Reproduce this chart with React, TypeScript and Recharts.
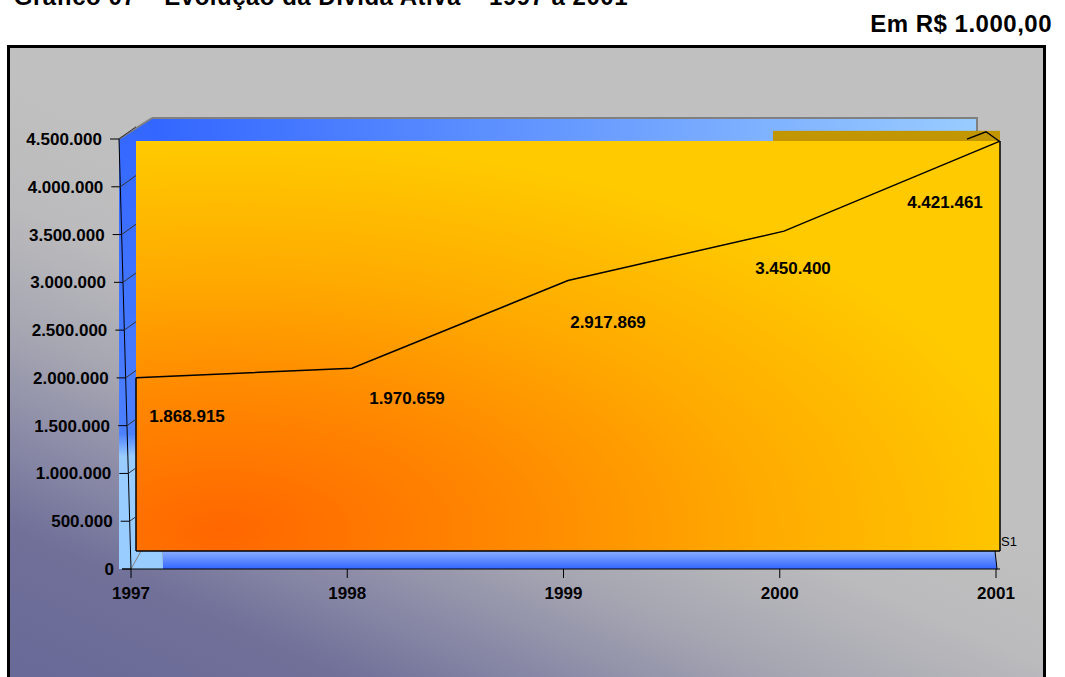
import { ComposedChart, Line, XAxis, YAxis, ReferenceArea, ReferenceLine, LabelList } from 'recharts'

const titulo = 'Gráfico 07 – Evolução da Dívida Ativa – 1997 a 2001'
const unidade = 'Em R$ 1.000,00'
const serieNome = 'S1'

const years = [1997, 1998, 1999, 2000, 2001]
const divida = [1868915, 1970659, 2917869, 3450400, 4421461]
const yTicks = [0, 500000, 1000000, 1500000, 2000000, 2500000, 3000000, 3500000, 4000000, 4500000]

// Excel 3D puts the value labels below/right of each point
const labelNudge = [
  { dx: 51, dy: 38 },
  { dx: 55, dy: 30 },
  { dx: 40, dy: 42 },
  { dx: 9, dy: 37 },
  { dx: -55, dy: 61 },
]

const data = years.map((ano, i) => ({ ano, valor: divida[i] }))
const last = years.length - 1
const yMax = yTicks[yTicks.length - 1]
const FONT = 'Arial, "Liberation Sans", sans-serif'
const fmt = (v: number) => String(v).replace(/\B(?=(\d{3})+(?!\d))/g, '.')

function Walls(props: any) {
  const { x: L, y: T, width: W, height: H } = props
  const R = L + W
  const B = T + H
  return (
    <g>
      <polygon points={`${L - 12},${T} ${L + 21},${T - 21} ${L + 32},${B} ${L - 12},${B}`} fill="url(#wallLeft)" />
      <rect x={L + 21} y={T - 21} width={R - 19 - (L + 21)} height={40} fill="url(#wallBack)" />
      <polyline points={`${L + 21},${T - 21} ${R - 19},${T - 21} ${R - 19},${T + 19}`} fill="none" stroke="#808080" strokeWidth={2} />
      <line x1={L - 12} y1={T} x2={L + 21} y2={T - 21} stroke="#808080" strokeWidth={2} />
      <polygon points={`${L + 32},${B - 18} ${R - 1},${B - 18} ${R + 1},${B} ${L + 32},${B}`} fill="url(#floor)" />
      <line x1={L} y1={B} x2={L + 10} y2={B - 18} stroke="#808080" />
      <line x1={R - 1} y1={B - 18} x2={R + 1} y2={B} stroke="#000" />
      <line x1={L} y1={B} x2={L - 12} y2={T} stroke="#000" />
    </g>
  )
}

// top face of the last segment, seen from above
function TopStrip(props: any) {
  const { x, y, width, height } = props
  const R = x + width
  const B = y + height
  return (
    <g>
      <rect x={x - 11} y={y} width={width + 11} height={height} fill="#C29600" />
      <polyline points={`${R - 33},${B - 2} ${R - 14},${y + 1} ${R - 1},${B}`} fill="none" stroke="#000" strokeWidth={1.3} />
    </g>
  )
}

function YTick(props: any) {
  const { x, y, payload } = props
  const v = payload.value as number
  const ax = x + 9 - (v / yMax) * 12
  const faceX = x + 14
  return (
    <g>
      <line x1={ax - 9} y1={y} x2={ax} y2={y} stroke="#000" />
      {v > 0 && <line x1={ax} y1={y} x2={faceX} y2={y - (faceX - ax) * 0.72} stroke="#333" />}
      <text x={ax - 17} y={y} dy="0.35em" textAnchor="end" fontSize={17} fontWeight="bold" fontFamily={FONT} fill="#000">
        {fmt(v)}
      </text>
    </g>
  )
}

function XTick(props: any) {
  const { x, y, payload } = props
  return (
    <text x={x} y={y + 21} textAnchor="middle" fontSize={17} fontWeight="bold" fontFamily={FONT} fill="#000">
      {payload.value}
    </text>
  )
}

function DataLabel(props: any) {
  const { x, y, value, index } = props
  const n = labelNudge[index] || { dx: 0, dy: 0 }
  return (
    <text x={x + n.dx} y={y + n.dy} dy="0.35em" textAnchor="middle" fontSize={17} fontWeight="bold" fontFamily={FONT} fill="#000">
      {fmt(value)}
    </text>
  )
}

function S1Label(props: any) {
  const vb = props.viewBox || {}
  return (
    <text x={vb.x + vb.width + 1} y={vb.y + vb.height - 5} fontSize={13} fontFamily={FONT} fill="#000">
      {serieNome}
    </text>
  )
}

export default function App() {
  return (
    <div style={{ position: 'absolute', left: 0, top: 0, width: 1065, height: 677, overflow: 'hidden', fontFamily: FONT }}>
      <div
        style={{
          position: 'absolute', right: 437, top: -15, fontSize: 24, lineHeight: '24px',
          fontWeight: 'bold', letterSpacing: 0.5, whiteSpace: 'nowrap', color: '#000',
        }}
      >
        {titulo}
      </div>
      <div
        style={{
          position: 'absolute', right: 13, top: 12, fontSize: 24, lineHeight: '24px',
          fontWeight: 'bold', letterSpacing: 0.5, whiteSpace: 'nowrap', color: '#000',
        }}
      >
        {unidade}
      </div>
      <div
        style={{
          position: 'absolute', left: 7, top: 45, width: 1033, height: 660, border: '3px solid #000',
          background: 'linear-gradient(24deg, #686898 0%, #707099 16%, #8888A6 24%, #A6A6B2 34%, #BBBBBD 45%, #C0C0C0 56%, #C0C0C0 100%)',
        }}
      />
      <div style={{ position: 'absolute', left: 0, top: 0 }}>
        <ComposedChart width={1065} height={677} data={data} margin={{ top: 139, right: 65, bottom: 78, left: 22 }}>
          <defs>
            <linearGradient id="wallLeft" x1="0" y1="0" x2="0" y2="1">
              <stop offset="0" stopColor="#3366FF" />
              <stop offset="0.7" stopColor="#4D80FF" />
              <stop offset="0.75" stopColor="#99CCFF" />
              <stop offset="1" stopColor="#99CCFF" />
            </linearGradient>
            <linearGradient id="wallBack" x1="0" y1="0" x2="1" y2="0">
              <stop offset="0" stopColor="#3366FF" />
              <stop offset="1" stopColor="#99CCFF" />
            </linearGradient>
            <linearGradient id="floor" x1="0" y1="0" x2="0" y2="1">
              <stop offset="0" stopColor="#8AAEFF" />
              <stop offset="1" stopColor="#3366FF" />
            </linearGradient>
            <radialGradient id="face" cx="0.1" cy="0.95" r="0.95" fx="0.1" fy="0.95">
              <stop offset="0" stopColor="#FF6600" />
              <stop offset="0.35" stopColor="#FF8800" />
              <stop offset="0.65" stopColor="#FFAA00" />
              <stop offset="1" stopColor="#FFCA00" />
            </radialGradient>
          </defs>

          <XAxis
            xAxisId="v" dataKey="ano" type="number" domain={[years[0], years[last]]} ticks={years}
            padding={{ left: 9, right: 4 }} height={30} tickSize={9} tickMargin={0}
            axisLine={{ stroke: '#000' }} tickLine={{ stroke: '#000' }} tick={<XTick />} interval={0}
          />
          <XAxis
            xAxisId="f" dataKey="ano" type="number" domain={[years[0], years[last]]}
            padding={{ left: 14, right: 0 }} height={0} hide
          />
          <YAxis
            yAxisId="v" dataKey="valor" domain={[0, yMax]} ticks={yTicks} width={100} axisLine={false} tickLine={false}
            tickSize={0} tickMargin={0} tick={<YTick />} interval={0} allowDataOverflow
          />
          <YAxis yAxisId="f" dataKey="valor" domain={[-194000, 4444000]} width={0} hide allowDataOverflow />

          <ReferenceArea
            xAxisId="v" yAxisId="v" x1={years[0]} x2={years[last]} y1={0} y2={yMax}
            ifOverflow="visible" shape={<Walls />}
          />
          <ReferenceArea
            xAxisId="f" yAxisId="f" x1={years[last - 1]} x2={years[last]} y1={divida[last]} y2={divida[last] * 1.025}
            ifOverflow="visible" shape={<TopStrip />}
          />
          <ReferenceArea
            xAxisId="f" yAxisId="f" x1={years[0]} x2={years[last]} y1={0} y2={divida[last]}
            fill="url(#face)" fillOpacity={1} ifOverflow="visible" label={S1Label}
          />
          <ReferenceLine xAxisId="f" yAxisId="f" segment={[{ x: years[0], y: 0 }, { x: years[0], y: divida[0] }]} stroke="#000" strokeWidth={1.5} ifOverflow="visible" />
          <ReferenceLine xAxisId="f" yAxisId="f" segment={[{ x: years[last], y: 0 }, { x: years[last], y: divida[last] }]} stroke="#000" strokeWidth={1.5} ifOverflow="visible" />
          <ReferenceLine xAxisId="f" yAxisId="f" segment={[{ x: years[0], y: 0 }, { x: years[last], y: 0 }]} stroke="#000" strokeWidth={1.5} ifOverflow="visible" />

          <Line
            xAxisId="f" yAxisId="f" dataKey="valor" type="linear" stroke="#000" strokeWidth={1.5}
            dot={false} activeDot={false} isAnimationActive={false}
          >
            <LabelList dataKey="valor" content={<DataLabel />} />
          </Line>
        </ComposedChart>
      </div>
    </div>
  )
}
